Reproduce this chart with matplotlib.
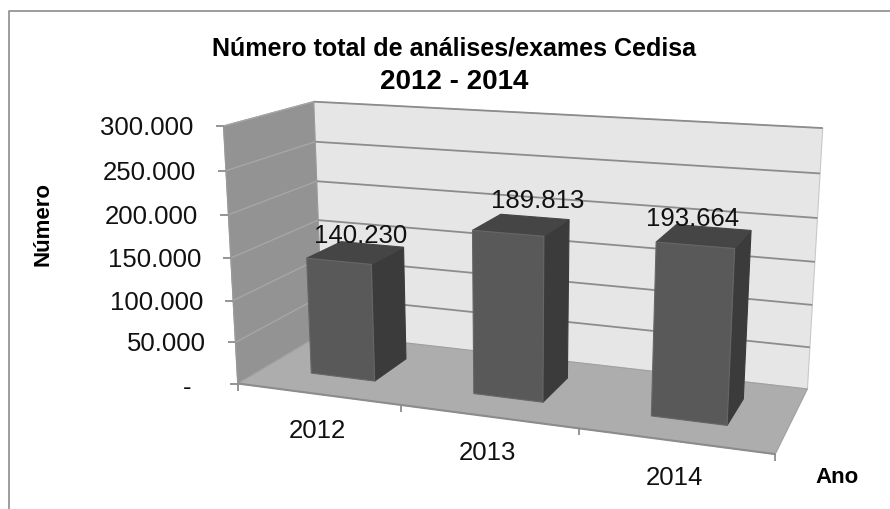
"""Numero total de analises/exames Cedisa, 3D column chart drawn with a small projective camera."""
import numpy as np
import matplotlib
matplotlib.use("Agg")
import matplotlib.pyplot as plt
from matplotlib.patches import Polygon

plt.rcParams["font.family"] = ["Liberation Sans", "DejaVu Sans"]

years = ["2012", "2013", "2014"]
totals = [140230, 189813, 193664]
total_labels = ["140.230", "189.813", "193.664"]
y_ticks = [0, 50000, 100000, 150000, 200000, 250000, 300000]
y_tick_labels = ["-", "50.000", "100.000", "150.000", "200.000", "250.000", "300.000"]
Y_MAX = 300000

# box corners on the page: (u, depth, height) -> pixel
CALIBRATION = [
    ((0, 0, 0), (238.3, 384.0)),
    ((1, 0, 0), (775.0, 456.0)),
    ((0, 1, 0), (322.0, 335.0)),
    ((1, 1, 0), (807.7, 389.0)),
    ((0, 0, 1), (223.3, 126.7)),
    ((0, 1, 1), (314.0, 102.7)),
    ((1, 1, 1), (822.7, 129.3)),
]

# value labels sit a little off the top of each column
LABEL_NUDGE = [(5, -18), (16, -25), (-12, -18)]
TEXT = "#111111"


def fit_camera(pairs):
    rows = []
    for (x, y, z), (px, py) in pairs:
        X = [x, y, z, 1]
        rows.append(X + [0, 0, 0, 0] + [-px * c for c in X])
        rows.append([0, 0, 0, 0] + X + [-py * c for c in X])
    return np.linalg.svd(np.array(rows, float))[2][-1].reshape(3, 4)


CAM = fit_camera(CALIBRATION)


def proj(u, d, h):
    p = CAM @ np.array([u, d, h, 1.0])
    return p[0] / p[2], p[1] / p[2]


fig = plt.figure(figsize=(8.9, 5.1), dpi=100)
ax = fig.add_axes([0, 0, 1, 1])
ax.set_xlim(0, 890)
ax.set_ylim(510, 0)
ax.axis("off")


def face(pts, color, edge=None, z=1):
    ax.add_patch(Polygon([proj(*p) for p in pts], closed=True, fc=color,
                         ec=edge if edge else color, lw=0.8, zorder=z))


def seg(a, b, color="#8c8c8c", lw=1.3, z=2):
    ax.plot(*zip(a, b), color=color, lw=lw, zorder=z, solid_capstyle="butt")


# chart frame, cropped on the right and bottom
ax.plot([8.5, 8.5, 890], [510, 12, 12], color="#8c8c8c", lw=1.2)

# walls and floor
face([(0, 1, 0), (1, 1, 0), (1, 1, 1), (0, 1, 1)], "#e6e6e6", "#c8c8c8")
face([(0, 0, 0), (0, 1, 0), (0, 1, 1), (0, 0, 1)], "#939393", "#9a9a9a")
face([(0, 0, 0), (1, 0, 0), (1, 1, 0), (0, 1, 0)], "#adadad", "#a0a0a0")

for v, lab in zip(y_ticks, y_tick_labels):
    h = v / Y_MAX
    if v > 0:
        seg(proj(0, 1, h), proj(1, 1, h))
        seg(proj(0, 0, h), proj(0, 1, h), color="#a6a6a6", lw=1.0)
    x0, y0 = proj(0, 0, h)
    seg((x0 - 8, y0), (x0, y0))
    ax.text(x0 - 30 if v > 0 else x0 - 46, y0 + (1 if v > 0 else 3), lab, ha="right", va="center",
            fontsize=18.5, color=TEXT)

# floor front edge and category ticks
seg(proj(0, 0, 0), proj(1, 0, 0), lw=1.5, z=3)
seg(proj(0, 0, 0), proj(0, 0, 1), color="#999999", lw=1.0, z=3)
for i in range(len(years) + 1):
    x0, y0 = proj(i / len(years), 0, 0)
    seg((x0, y0), (x0, y0 + 7), z=3)

# columns
GAP = 0.3
DEPTH0, DEPTH1 = 0.30, 0.72
for i, (yr, val, lab) in enumerate(zip(years, totals, total_labels)):
    u0 = (i + GAP) / 3
    u1 = (i + 1 - GAP) / 3
    h = val / Y_MAX
    z = 5 + i
    face([(u1, DEPTH0, 0), (u1, DEPTH1, 0), (u1, DEPTH1, h), (u1, DEPTH0, h)], "#3b3b3b", z=z)
    face([(u0, DEPTH0, h), (u1, DEPTH0, h), (u1, DEPTH1, h), (u0, DEPTH1, h)], "#454545", z=z)
    face([(u0, DEPTH0, 0), (u1, DEPTH0, 0), (u1, DEPTH0, h), (u0, DEPTH0, h)], "#595959", "#666666", z=z)
    tx, ty = proj((u0 + u1) / 2, (DEPTH0 + DEPTH1) / 2, h)
    ax.text(tx + LABEL_NUDGE[i][0], ty + LABEL_NUDGE[i][1], lab, ha="center", va="center",
            fontsize=18.5, color=TEXT, zorder=20)
    cx, cy = proj((i + 0.5) / 3, 0, 0)
    ax.text(cx, cy + 36, yr, ha="center", va="center", fontsize=18.5, color=TEXT)

ax.text(454, 48, "Número total de análises/exames Cedisa", ha="center", va="center",
        fontsize=18, fontweight="bold", color="black")
ax.text(454, 82, "2012 - 2014", ha="center", va="center", fontsize=20, fontweight="bold", color="black")
ax.text(43, 224, "Número", rotation=90, ha="center", va="center", fontsize=16, fontweight="bold")
ax.text(837, 478, "Ano", ha="center", va="center", fontsize=16, fontweight="bold")

fig.savefig("out.png", dpi=100)
